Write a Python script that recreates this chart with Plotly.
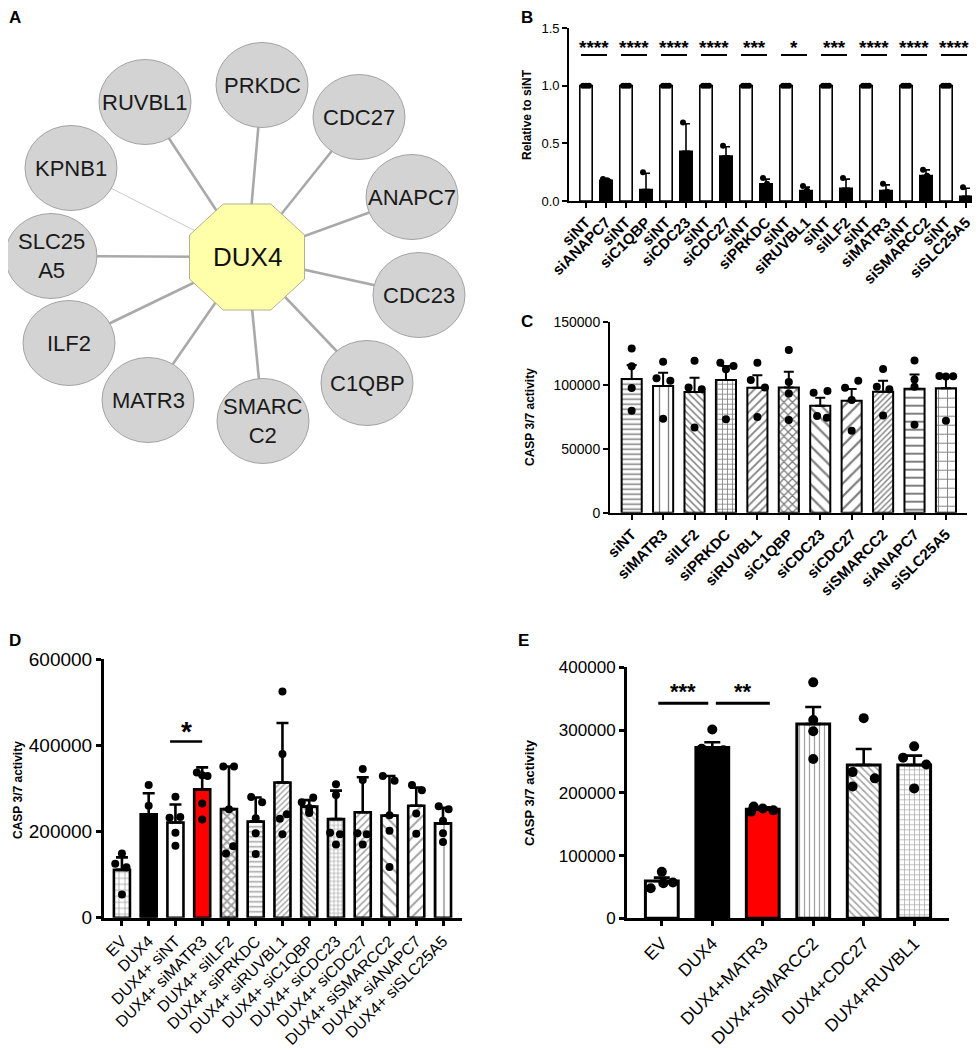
import plotly.graph_objects as go
import math

# The page body adds an 8px margin at the top-left; the figure is drawn 8px in
OFF = 8
W, H = 980 - OFF, 1050 - OFF
FONT = "Arial, Liberation Sans, Helvetica, sans-serif"


def px(x):
    return (x - OFF) / W


def py(y):
    return 1 - (y - OFF) / H


# ---------------- Panel A: interaction network ----------------
hub_name = "DUX4"
hub_pos = (247, 257)
node_names = ["PRKDC", "CDC27", "ANAPC7", "CDC23", "C1QBP", "SMARC<br>C2",
              "MATR3", "ILF2", "SLC25<br>A5", "KPNB1", "RUVBL1"]
node_x = [262, 359, 412, 419, 367, 263, 148, 69, 51, 71, 145]
node_y = [85, 117, 197, 295, 383, 421, 400, 343, 256, 168, 102]
edge_strength = [1, 1, 1, 1, 1, 1, 1, 1, 1, 0.3, 1]

# ---------------- Panel B ----------------
B_control = "siNT"
B_targets = ["siANAPC7", "siC1QBP", "siCDC23", "siCDC27", "siPRKDC",
             "siRUVBL1", "siILF2", "siMATR3", "siSMARCC2", "siSLC25A5"]
B_kd_mean = [0.18, 0.10, 0.43, 0.39, 0.15, 0.09, 0.11, 0.09, 0.22, 0.04]
B_kd_err = [0.01, 0.14, 0.24, 0.08, 0.04, 0.03, 0.08, 0.05, 0.05, 0.07]
B_kd_dots = [[0.19, 0.18, 0.17], [0.25, 0.03, 0.02], [0.68, 0.35, 0.27],
             [0.48, 0.37, 0.34], [0.20, 0.15, 0.11], [0.13, 0.09, 0.07],
             [0.20, 0.07, 0.06], [0.15, 0.08, 0.06], [0.27, 0.22, 0.19],
             [0.12, 0.01, 0.00]]
B_sig = ["****", "****", "****", "****", "***", "*", "***", "****", "****", "****"]

# ---------------- Panel C ----------------
C_labels = ["siNT", "siMATR3", "siILF2", "siPRKDC", "siRUVBL1", "siC1QBP",
            "siCDC23", "siCDC27", "siSMARCC2", "siANAPC7", "siSLC25A5"]
C_mean = [105000, 99500, 94800, 104200, 98200, 98400, 84000, 88000, 95000, 97400, 97700]
C_err = [11000, 10500, 11200, 11000, 9700, 12300, 6300, 9100, 8700, 11200, 8600]
C_dots = [[129000, 115000, 98000, 80000],
          [118600, 105500, 103700, 73800],
          [119400, 98400, 96900, 67000],
          [117800, 112600, 115200, 73300],
          [117800, 104200, 98400, 75100],
          [127800, 102600, 93700, 72800],
          [94200, 95600, 75900, 74500],
          [103700, 98200, 88500, 64400],
          [112800, 99000, 96900, 76400],
          [119600, 104700, 99000, 69100],
          [107300, 107100, 107000, 72300]]
C_jitter = [[0, 0, 0, 0], [0, -0.21, 0.23, 0], [0, -0.19, 0.23, 0],
            [-0.18, 0, 0.24, 0], [0, -0.21, 0.24, 0], [0, 0, 0, 0],
            [-0.21, 0.23, -0.1, 0.21], [0.21, -0.21, 0, 0], [0, -0.2, 0.2, 0],
            [0, 0, 0, 0], [-0.21, 0.23, 0, 0]]

# ---------------- Panel D ----------------
D_labels = ["EV", "DUX4", "DUX4+ siNT", "DUX4+ siMATR3", "DUX4+ siILF2",
            "DUX4+ siPRKDC", "DUX4+ siRUVBL1", "DUX4+ siC1QBP", "DUX4+ siCDC23",
            "DUX4+ siCDC27", "DUX4+ siSMARCC2", "DUX4+ siANAPC7", "DUX4+ siSLC25A5"]
D_mean = [111000, 240000, 221000, 298000, 252000, 223000, 314000, 258000,
          229000, 245000, 237000, 260000, 219000]
D_err = [29000, 49000, 42000, 51000, 99000, 56000, 138000, 15000, 66000,
         81000, 92000, 42000, 36000]
D_dots = [[149000, 125000, 117000, 54000],
          [308000, 260000, 215000, 177000],
          [281000, 234000, 232000, 197000, 167000],
          [337000, 329000, 331000, 265000, 228000],
          [351000, 351000, 252000, 166000, 149000],
          [280000, 268000, 231000, 196000, 148000],
          [525000, 380000, 240000, 230000, 194000],
          [279000, 268000, 255000, 245000, 243000],
          [310000, 285000, 197000, 194000, 170000],
          [345000, 320000, 196000, 194000, 170000],
          [329000, 318000, 238000, 202000, 118000],
          [308000, 296000, 242000, 195000],
          [259000, 252000, 225000, 196000, 176000]]
D_jitter = [[0, -0.25, 0.17, 0], [0, 0, 0, 0], [0, 0.18, -0.22, 0, 0],
            [-0.2, 0.2, 0, 0, 0], [-0.21, 0.19, 0, 0.16, -0.11],
            [-0.17, 0.24, 0, 0, 0], [0, 0, 0.16, -0.1, 0],
            [0.15, -0.28, 0, 0, 0], [0, 0, -0.22, 0.15, 0],
            [0, 0, -0.2, 0.15, 0], [-0.25, 0.19, 0, 0, 0],
            [-0.16, 0.21, 0, 0], [-0.16, 0.21, 0, 0, 0]]

# ---------------- Panel E ----------------
E_labels = ["EV", "DUX4", "DUX4+MATR3", "DUX4+SMARCC2", "DUX4+CDC27", "DUX4+RUVBL1"]
E_mean = [59500, 272000, 173700, 309700, 244400, 244400]
E_err = [5300, 8500, 3200, 27100, 25500, 14800]
E_dots = [[74000, 57000, 56000, 48000],
          [301000, 270000, 268000, 249000],
          [178000, 175000, 172000, 170000],
          [376000, 316000, 298000, 254000],
          [319000, 233000, 223000, 210000],
          [274000, 256000, 245000, 207000]]
E_jitter = [[0, 0.22, 0.03, -0.22], [0, -0.21, 0.22, 0], [-0.18, 0, 0.21, -0.23],
            [0, 0, 0, 0], [0, -0.22, 0.22, -0.22], [0, -0.22, 0.24, 0]]


def dots_xy(dots, jit):
    xs, ys = [], []
    for i, (vals, offs) in enumerate(zip(dots, jit)):
        for v, o in zip(vals, offs):
            xs.append(i + o)
            ys.append(v)
    return xs, ys


fig = go.Figure()
shapes = []
annotations = []

# ---------- Panel A drawing ----------
hx, hy = hub_pos
for nx, ny, s in zip(node_x, node_y, edge_strength):
    fig.add_trace(go.Scatter(
        x=[hx, nx], y=[hy, ny], mode="lines", xaxis="x", yaxis="y",
        line=dict(color="#a9a9a9" if s >= 1 else "#c8c8c8", width=2.6 if s >= 1 else 1),
        hoverinfo="skip", showlegend=False))

RX, RY = 46, 42.5
for name, nx, ny in zip(node_names, node_x, node_y):
    shapes.append(dict(type="circle", xref="x", yref="y", x0=nx - RX, x1=nx + RX,
                       y0=ny - RY, y1=ny + RY, fillcolor="#d3d3d3",
                       line=dict(color="#a3a3a3", width=1), layer="above"))
    annotations.append(dict(x=nx, y=ny, xref="x", yref="y", text=name, showarrow=False,
                            font=dict(family=FONT, size=22, color="#1a1a1a")))

HW, HH = 57.5, 53
t = math.tan(math.pi / 8)
octo = [(-t * HW, -HH), (t * HW, -HH), (HW, -t * HH), (HW, t * HH), (t * HW, HH),
        (-t * HW, HH), (-HW, t * HH), (-HW, -t * HH)]
path = "M " + " L ".join(f"{hx + a:.1f},{hy + b:.1f}" for a, b in octo) + " Z"
shapes.append(dict(type="path", xref="x", yref="y", path=path, fillcolor="#ffffaa",
                   line=dict(color="#b0b094", width=1), layer="above"))
annotations.append(dict(x=hx, y=hy, xref="x", yref="y", text=hub_name, showarrow=False,
                        font=dict(family=FONT, size=26, color="#111111")))

# ---------- Panel B drawing ----------
B_labels, B_mean, B_err, B_fill = [], [], [], []
for tg, m, e in zip(B_targets, B_kd_mean, B_kd_err):
    B_labels += [B_control, tg]
    B_mean += [1.0, m]
    B_err += [None, e]
    B_fill += ["white", "black"]
nB = len(B_labels)
fig.add_trace(go.Bar(
    x=list(range(nB)), y=B_mean, xaxis="x2", yaxis="y2", width=0.62,
    marker=dict(color=B_fill, line=dict(color="black", width=1.6)),
    error_y=dict(type="data", array=B_err, arrayminus=[0] * nB, symmetric=False,
                 color="black", thickness=1.6, width=4),
    showlegend=False, hoverinfo="skip"))
bx, by = [], []
for k, dts in enumerate(B_kd_dots):
    i_ctrl = 2 * k
    for o in (-0.15, 0, 0.15):
        bx.append(i_ctrl + o)
        by.append(1.0)
    for o, v in zip((-0.15, 0.05, 0.15), dts):
        bx.append(i_ctrl + 1 + o)
        by.append(v)
fig.add_trace(go.Scatter(x=bx, y=by, mode="markers", xaxis="x2", yaxis="y2",
                         marker=dict(color="black", size=6), showlegend=False,
                         hoverinfo="skip"))
for k, s in enumerate(B_sig):
    x0 = 2 * k - 0.25
    x1 = 2 * k + 1.05
    shapes.append(dict(type="line", xref="x2", yref="y2", x0=x0, x1=x1, y0=1.266,
                       y1=1.266, line=dict(color="black", width=2)))
    annotations.append(dict(x=(x0 + x1) / 2, y=1.33, xref="x2", yref="y2", text=s,
                            showarrow=False, yanchor="middle",
                            font=dict(family=FONT, size=19, color="black", weight="bold")))

# ---------- Panel C drawing ----------
C_pat = dict(shape=["-", "|", "\\", "+", "/", "x", "\\", "/", "/", "-", "+"],
             size=[5, 9, 5, 5, 6, 6, 9, 9, 4, 8, 9],
             solidity=[0.3, 0.15, 0.3, 0.3, 0.3, 0.4, 0.25, 0.25, 0.35, 0.25, 0.2],
             fgcolor="black", fillmode="overlay")
nC = len(C_labels)
fig.add_trace(go.Bar(
    x=list(range(nC)), y=C_mean, xaxis="x3", yaxis="y3", width=0.64,
    marker=dict(color="white", line=dict(color="black", width=2), pattern=C_pat),
    error_y=dict(type="data", array=C_err, arrayminus=[0] * nC, symmetric=False,
                 color="black", thickness=2, width=5),
    showlegend=False, hoverinfo="skip"))
cx, cy = dots_xy(C_dots, C_jitter)
fig.add_trace(go.Scatter(x=cx, y=cy, mode="markers", xaxis="x3", yaxis="y3",
                         marker=dict(color="black", size=8), showlegend=False,
                         hoverinfo="skip"))

# ---------- Panel D drawing ----------
nD = len(D_labels)
D_fill = ["white", "black", "white", "#ff0000"] + ["white"] * 9
D_pat = dict(shape=["+", "", "", "", "x", "-", "/", "\\", "+", "/", "\\", "/", "|"],
             size=[6, 8, 8, 8, 6, 5, 4, 4, 4, 5, 8, 8, 8],
             solidity=[0.25, 0.3, 0.3, 0.3, 0.55, 0.3, 0.35, 0.35, 0.3, 0.3, 0.25, 0.25, 0.2],
             fgcolor="black", fillmode="overlay")
fig.add_trace(go.Bar(
    x=list(range(nD)), y=D_mean, xaxis="x4", yaxis="y4", width=0.6,
    marker=dict(color=D_fill, line=dict(color="black", width=2.6), pattern=D_pat),
    error_y=dict(type="data", array=D_err, arrayminus=[0] * nD, symmetric=False,
                 color="black", thickness=2.6, width=6),
    showlegend=False, hoverinfo="skip"))
dx, dy = dots_xy(D_dots, D_jitter)
fig.add_trace(go.Scatter(x=dx, y=dy, mode="markers", xaxis="x4", yaxis="y4",
                         marker=dict(color="black", size=8), showlegend=False,
                         hoverinfo="skip"))
shapes.append(dict(type="line", xref="x4", yref="y4", x0=1.8, x1=3.0, y0=409000,
                   y1=409000, line=dict(color="black", width=2.6)))
annotations.append(dict(x=2.43, y=432000, xref="x4", yref="y4", text="*", showarrow=False,
                        yanchor="middle",
                        font=dict(family=FONT, size=28, color="black", weight="bold")))

# ---------- Panel E drawing ----------
nE = len(E_labels)
E_fill = ["white", "black", "#ff0000", "white", "white", "white"]
E_pat = dict(shape=["", "", "", "|", "\\", "+"], size=[8, 8, 8, 5, 5, 5],
             solidity=[0.3, 0.3, 0.3, 0.25, 0.3, 0.25], fgcolor="black", fillmode="overlay")
fig.add_trace(go.Bar(
    x=list(range(nE)), y=E_mean, xaxis="x5", yaxis="y5", width=0.65,
    marker=dict(color=E_fill, line=dict(color="black", width=3), pattern=E_pat),
    error_y=dict(type="data", array=E_err, arrayminus=[0] * nE, symmetric=False,
                 color="black", thickness=2.6, width=8),
    showlegend=False, hoverinfo="skip"))
ex, ey = dots_xy(E_dots, E_jitter)
fig.add_trace(go.Scatter(x=ex, y=ey, mode="markers", xaxis="x5", yaxis="y5",
                         marker=dict(color="black", size=10), showlegend=False,
                         hoverinfo="skip"))
E_sig = [("***", -0.07, 0.92), ("**", 1.07, 2.14)]
for s, a, b in E_sig:
    shapes.append(dict(type="line", xref="x5", yref="y5", x0=a, x1=b, y0=342600,
                       y1=342600, line=dict(color="black", width=3)))
    annotations.append(dict(x=(a + b) / 2, y=362000, xref="x5", yref="y5", text=s,
                            showarrow=False, yanchor="middle",
                            font=dict(family=FONT, size=22, color="black", weight="bold")))

# ---------- panel letters & y titles ----------
for letter, x, y in [("A", 15, 17), ("B", 527, 17), ("C", 527, 322), ("D", 15, 640), ("E", 523, 640)]:
    annotations.append(dict(x=px(x), y=py(y), xref="paper", yref="paper", text=letter,
                            showarrow=False, xanchor="center", yanchor="middle",
                            font=dict(family=FONT, size=17, color="black", weight="bold")))
for title, x, y, fs in [("Relative to siNT", 527, 115, 12), ("CASP 3/7 activity", 530, 417, 12),
                        ("CASP 3/7 activity", 18, 790, 12), ("CASP 3/7 activity", 529, 793, 13)]:
    annotations.append(dict(x=px(x), y=py(y), xref="paper", yref="paper", text=title,
                            textangle=-90, showarrow=False, xanchor="center", yanchor="middle",
                            font=dict(family=FONT, size=fs, color="black", weight="bold")))


def xax(dom, rng, n, labels, lw, fs, bold):
    return dict(domain=dom, range=rng, tickmode="array", tickvals=list(range(n)),
                ticktext=labels, tickangle=-45, showline=True, linecolor="black",
                linewidth=lw, ticks="outside", ticklen=5, tickwidth=lw, tickcolor="black",
                showgrid=False, zeroline=False, automargin=False, ticklabeloverflow="allow",
                tickfont=dict(family=FONT, size=fs, color="black",
                              weight="bold" if bold else "normal"))


def yax(dom, rng, vals, text, lw, fs, anchor):
    return dict(domain=dom, range=rng, tickmode="array", tickvals=vals, ticktext=text,
                showline=True, linecolor="black", linewidth=lw, ticks="outside",
                ticklen=5, tickwidth=lw, tickcolor="black", showgrid=False,
                zeroline=False, anchor=anchor, automargin=False, ticklabeloverflow="allow",
                tickfont=dict(family=FONT, size=fs, color="black"))


fig.update_layout(
    template="none",
    width=W, height=H, margin=dict(l=0, r=0, t=0, b=0, pad=0), autosize=False,
    paper_bgcolor="white", plot_bgcolor="white", showlegend=False,
    font=dict(family=FONT, color="black"),
    bargap=0.3,
    xaxis=dict(domain=[0, px(520)], range=[OFF, 520], visible=False, fixedrange=True,
               automargin=False),
    yaxis=dict(domain=[py(560), 1], range=[560, OFF], visible=False, fixedrange=True,
               automargin=False),
    xaxis2=dict(xax([px(569), 1.0], [-0.85, 19.7], nB, B_labels, 1.6, 15, True), anchor="y2"),
    yaxis2=yax([py(201), py(28)], [0, 1.5], [0, 0.5, 1.0, 1.5], ["0.0", "0.5", "1.0", "1.5"],
               1.6, 13, "x2"),
    xaxis3=dict(xax([px(610), px(967)], [-0.69, 10.67], nC, C_labels, 2, 15, True), anchor="y3"),
    yaxis3=yax([py(512.7), py(321.7)], [0, 150000], [0, 50000, 100000, 150000],
               ["0", "50000", "100000", "150000"], 2, 14, "x3"),
    xaxis4=dict(xax([px(104), px(462)], [-0.67, 12.71], nD, D_labels, 3, 16, False), anchor="y4"),
    yaxis4=yax([py(917.7), py(659.3)], [0, 600000], [0, 200000, 400000, 600000],
               ["0", "200000", "400000", "600000"], 3, 19, "x4"),
    xaxis5=dict(xax([px(627), px(949)], [-0.69, 5.69], nE, E_labels, 3, 17.5, False), anchor="y5"),
    yaxis5=yax([py(918.3), py(667.3)], [0, 400000], [0, 100000, 200000, 300000, 400000],
               ["0", "100000", "200000", "300000", "400000"], 3, 17, "x5"),
    shapes=shapes, annotations=annotations,
)

fig.write_html("out.html")
